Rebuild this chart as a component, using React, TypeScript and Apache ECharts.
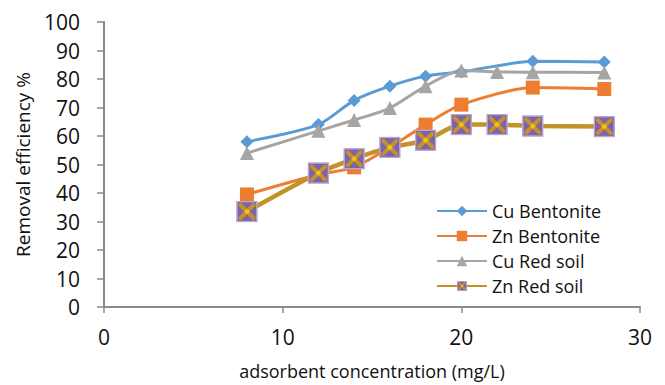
import React, { useEffect, useRef } from "react";
import * as echarts from "echarts";

const seriesNames = ["Cu Bentonite", "Zn Bentonite", "Cu Red soil", "Zn Red soil"];
const xBentonite = [8, 12, 14, 16, 18, 20, 24, 28];
const xRedSoil = [8, 12, 14, 16, 18, 20, 22, 24, 28];
const cuBentonite = [58, 64, 72.5, 77.5, 81, 82.5, 86.2, 86];
const znBentonite = [39.5, 46.5, 49, 56, 64, 71, 77, 76.5];
const cuRedSoil = [54, 61.8, 65.6, 69.8, 77.5, 83, 82.5, 82.4, 82.3];
const znRedSoil = [33.5, 47, 52, 56, 58.5, 64, 64, 63.5, 63.3];
const xTicks = [0, 10, 20, 30];
const yTicks = [0, 10, 20, 30, 40, 50, 60, 70, 80, 90, 100];

const FONT = "'Open Sans', 'Noto Sans', sans-serif";

const znRedSvg =
  '<svg xmlns="http://www.w3.org/2000/svg" width="22" height="22" viewBox="0 0 22 22">' +
  '<rect x="1" y="1" width="20" height="20" fill="#7f63a8" stroke="#b7a6d8" stroke-width="1.5"/>' +
  '<line x1="4.5" y1="4.5" x2="17.5" y2="17.5" stroke="#c39228" stroke-width="4" stroke-linecap="round"/>' +
  '<line x1="17.5" y1="4.5" x2="4.5" y2="17.5" stroke="#c39228" stroke-width="4" stroke-linecap="round"/>' +
  '<circle cx="11" cy="11" r="2.4" fill="#f2c21a"/>' +
  "</svg>";
const znRedSymbol = "image://data:image/svg+xml;charset=utf-8," + encodeURIComponent(znRedSvg);

function pairs(xs: number[], ys: number[]) {
  return xs.map((x, i) => [x, ys[i]]);
}

export default function App() {
  const ref = useRef<HTMLDivElement>(null);
  useEffect(() => {
    if (!ref.current) return;
    const chart = echarts.init(ref.current, undefined, { renderer: "svg" });
    const axisLineStyle = { color: "#8a8a8a", width: 2 };
    chart.setOption({
      animation: false,
      backgroundColor: "#ffffff",
      textStyle: { fontFamily: FONT },
      grid: { left: 104, right: 25, top: 22, bottom: 78, containLabel: false },
      xAxis: {
        type: "value",
        min: xTicks[0],
        max: xTicks[xTicks.length - 1],
        interval: 10,
        name: "adsorbent concentration (mg/L)",
        nameLocation: "middle",
        nameGap: 55,
        nameTextStyle: { fontSize: 18, color: "#111", fontFamily: FONT },
        axisLine: { lineStyle: axisLineStyle },
        axisTick: { show: true, length: 6, lineStyle: { color: "#8a8a8a", width: 1.5 } },
        axisLabel: { fontSize: 21, color: "#111", margin: 19, fontFamily: FONT },
        splitLine: { show: false },
      },
      yAxis: {
        type: "value",
        min: yTicks[0],
        max: yTicks[yTicks.length - 1],
        interval: 10,
        name: "Removal efficiency %",
        nameLocation: "middle",
        nameRotate: 90,
        nameGap: 72,
        nameTextStyle: { fontSize: 19, color: "#111", fontFamily: FONT },
        axisLine: { show: true, lineStyle: axisLineStyle },
        axisTick: { show: true, length: 7, lineStyle: { color: "#8a8a8a", width: 1.5 } },
        axisLabel: { fontSize: 21, color: "#111", margin: 24, fontFamily: FONT },
        splitLine: { show: false },
      },
      legend: {
        orient: "vertical",
        left: 431,
        top: 197,
        itemWidth: 50,
        itemHeight: 13,
        itemGap: 7,
        textStyle: { fontSize: 18, color: "#111", fontFamily: FONT },
        data: seriesNames,
      },
      series: [
        {
          name: seriesNames[0],
          type: "line",
          smooth: 0.25,
          data: pairs(xBentonite, cuBentonite),
          symbol: "diamond",
          symbolSize: 13,
          itemStyle: { color: "#5b9bd5" },
          lineStyle: { color: "#5b9bd5", width: 3 },
        },
        {
          name: seriesNames[1],
          type: "line",
          smooth: 0.25,
          data: pairs(xBentonite, znBentonite),
          symbol: "rect",
          symbolSize: 14,
          itemStyle: { color: "#ed7d31" },
          lineStyle: { color: "#ed7d31", width: 3 },
        },
        {
          name: seriesNames[2],
          type: "line",
          smooth: 0.25,
          data: pairs(xRedSoil, cuRedSoil),
          symbol: "triangle",
          symbolSize: 14,
          itemStyle: { color: "#a5a5a5" },
          lineStyle: { color: "#a5a5a5", width: 3 },
        },
        {
          name: seriesNames[3],
          type: "line",
          smooth: 0.25,
          data: pairs(xRedSoil, znRedSoil),
          symbol: znRedSymbol,
          symbolSize: 22,
          itemStyle: { color: "#c39228" },
          lineStyle: { color: "#c39228", width: 4.5 },
        },
      ],
    });
    return () => chart.dispose();
  }, []);
  return <div ref={ref} style={{ width: 665, height: 385, position: "absolute", left: 0, top: 0 }} />;
}
